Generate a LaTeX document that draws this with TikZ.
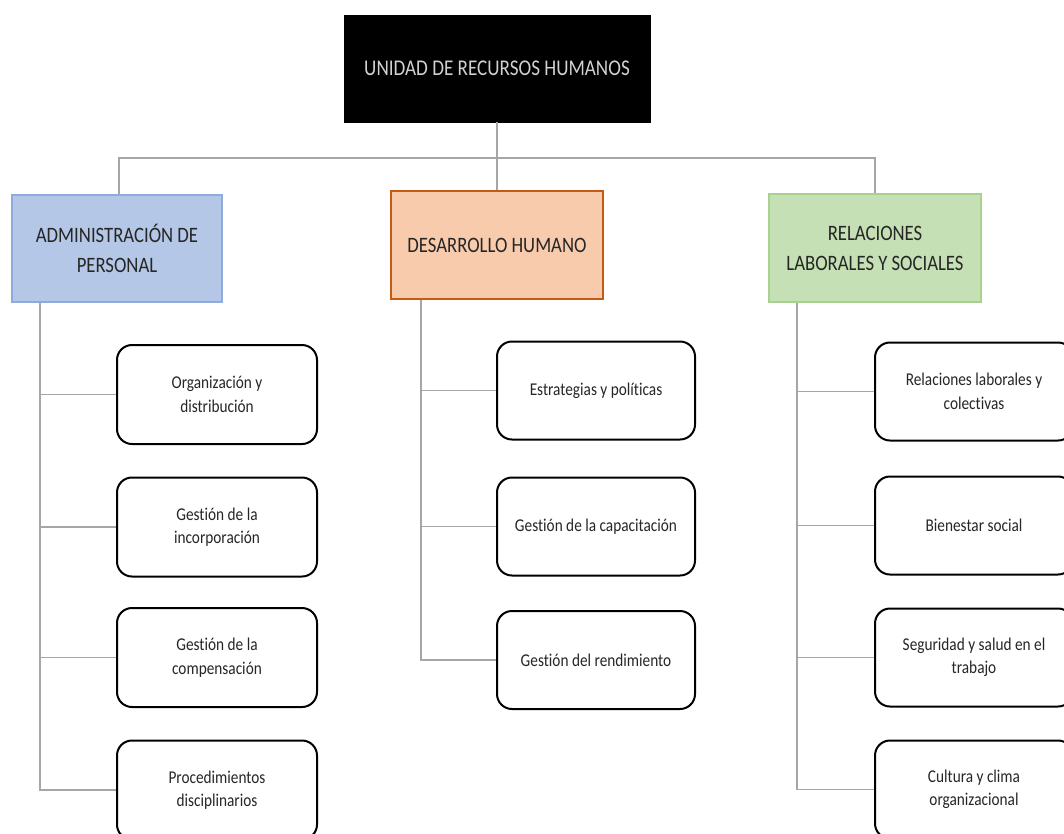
\documentclass[tikz,border=0pt]{standalone}
\usepackage{fontspec}
\setmainfont{Carlito}[FakeStretch=0.85,Ligatures=NoCommon]
\definecolor{blueF}{HTML}{B4C7E7}
\definecolor{blueD}{HTML}{8FAADC}
\definecolor{orF}{HTML}{F8CBAD}
\definecolor{orD}{HTML}{C55A11}
\definecolor{grF}{HTML}{C5E0B4}
\definecolor{grD}{HTML}{A9D18E}
\definecolor{lineC}{HTML}{A6A6A6}
\definecolor{txt}{HTML}{262626}
\begin{document}
\begin{tikzpicture}[x=1pt,y=-1pt,
  topbox/.style={fill=black, draw=black, minimum width=306pt, minimum height=107pt, inner sep=0pt,
    text=white!82!black, font=\fontsize{22.5}{26}\selectfont},
  catbox/.style={line width=2pt, minimum width=210pt, minimum height=107pt, inner sep=0pt,
    align=center, text=txt, font=\fontsize{22}{30}\selectfont},
  leaf/.style={draw=black, line width=2pt, rounded corners=15pt, fill=white, minimum width=198pt,
    minimum height=98pt, inner sep=0pt, align=center, text=txt, font=\fontsize{18}{23.5}\selectfont},
  conn/.style={draw=lineC, line width=1.6pt}]
\useasboundingbox (0,0) rectangle (1064,833);
\clip (0,0) rectangle (1064,833);

\node[topbox] (top) at (497,68.5) {UNIDAD DE RECURSOS HUMANOS};
\node[catbox, fill=blueF, draw=blueD] (adm) at (117,248.5) {ADMINISTRACIÓN DE\\PERSONAL};
\node[catbox, fill=orF, draw=orD, minimum width=212pt, minimum height=108pt] (des) at (497,245) {DESARROLLO HUMANO};
\node[catbox, fill=grF, draw=grD, minimum width=212pt, minimum height=108pt] (rel) at (875,248) {RELACIONES\\LABORALES Y SOCIALES};

\node[leaf, minimum width=200pt, minimum height=99pt] (a1) at (217,394.5) {Organización y\\distribución};
\node[leaf, minimum width=200pt, minimum height=99pt] (a2) at (217,527) {Gestión de la\\incorporación};
\node[leaf, minimum width=200pt, minimum height=99pt] (a3) at (217,657.5) {Gestión de la\\compensación};
\node[leaf, minimum width=200pt, minimum height=99pt] (a4) at (217,790) {Procedimientos\\disciplinarios};

\node[leaf] (d1) at (596,390.5) {Estrategias y políticas};
\node[leaf] (d2) at (596,526.5) {Gestión de la capacitación};
\node[leaf] (d3) at (596,660) {Gestión del rendimiento};

\node[leaf] (r1) at (974,391.5) {Relaciones laborales y\\colectivas};
\node[leaf] (r2) at (974,525.5) {Bienestar social};
\node[leaf] (r3) at (974,657.5) {Seguridad y salud en el\\trabajo};
\node[leaf] (r4) at (974,789.5) {Cultura y clima\\organizacional};

\coordinate (bar) at (497,158);
\draw[conn] (top.south) -- (des.north);
\draw[conn] ([xshift=2pt]adm.north) |- (bar) -| (rel.north);

\coordinate (ta) at ([xshift=29pt]adm.south west);
\coordinate (td) at ([xshift=31pt]des.south west);
\coordinate (tr) at ([xshift=29pt]rel.south west);
\draw[conn] (ta) |- (a4.west);
\draw[conn] (td) |- (d3.west);
\draw[conn] (tr) |- (r4.west);
\foreach \n in {a1,a2,a3} \draw[conn] (\n.west) -- (\n.west -| ta);
\foreach \n in {d1,d2} \draw[conn] (\n.west) -- (\n.west -| td);
\foreach \n in {r1,r2,r3} \draw[conn] (\n.west) -- (\n.west -| tr);
\end{tikzpicture}
\end{document}
